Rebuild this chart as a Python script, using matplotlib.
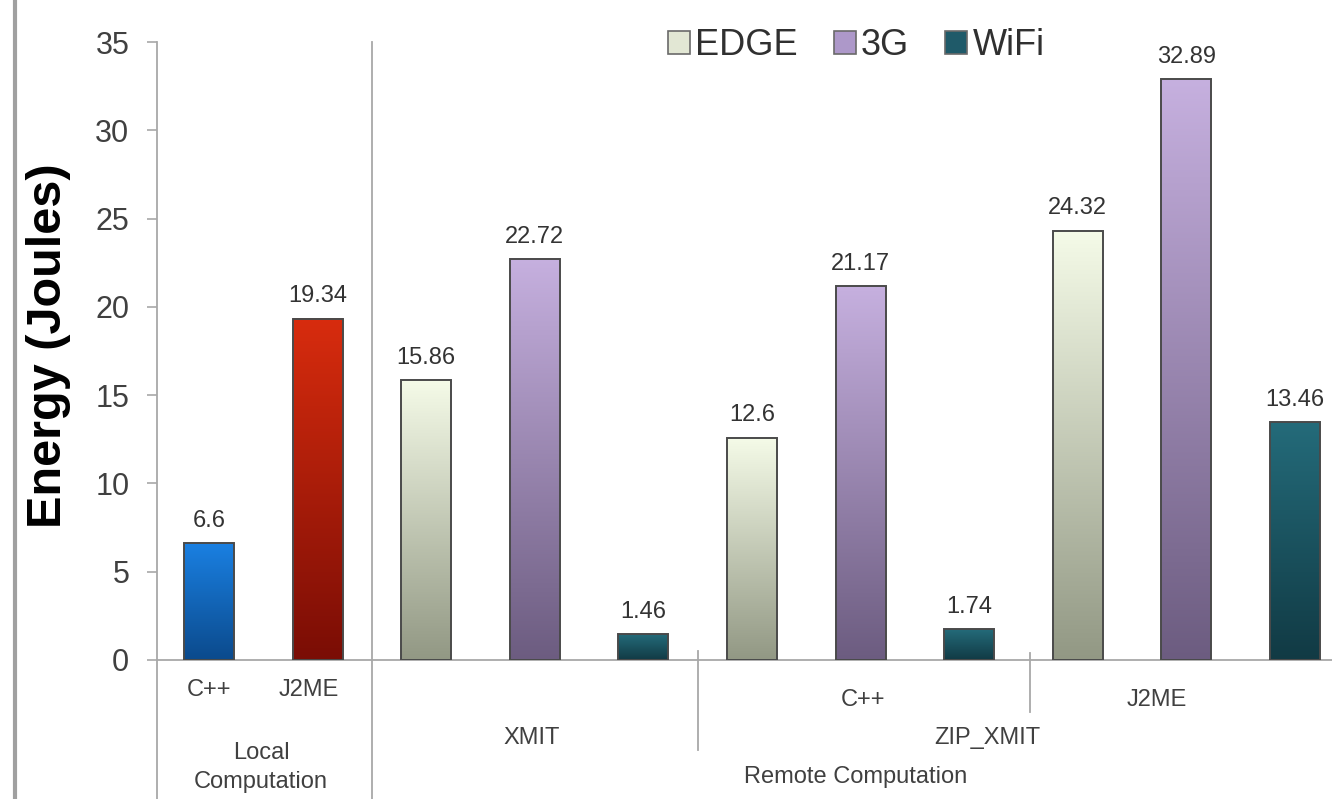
import numpy as np
import matplotlib
matplotlib.use("Agg")
import matplotlib.pyplot as plt
from matplotlib.colors import LinearSegmentedColormap
from matplotlib.patches import Patch
from matplotlib.lines import Line2D

plt.rcParams["font.family"] = ["Liberation Sans", "DejaVu Sans"]

# one entry per bar, left to right
bar_kind = ["C++", "J2ME",
            "EDGE", "3G", "WiFi",     # XMIT
            "EDGE", "3G", "WiFi",     # ZIP_XMIT, C++
            "EDGE", "3G", "WiFi"]     # ZIP_XMIT, J2ME
energy = [6.6, 19.34,
          15.86, 22.72, 1.46,
          12.6, 21.17, 1.74,
          24.32, 32.89, 13.46]
networks = ["EDGE", "3G", "WiFi"]

# (top, bottom) colours of each bar's vertical gradient
shades = {
    "C++":  ("#1a80e2", "#0b4a8c"),
    "J2ME": ("#d82c0e", "#7a0d05"),
    "EDGE": ("#f5fbe8", "#929884"),
    "3G":   ("#c6b0df", "#6c5c80"),
    "WiFi": ("#246b7a", "#113a44"),
}
legend_fill = {"EDGE": "#e2e7d4", "3G": "#ad98c9", "WiFi": "#1f5a69"}

fig = plt.figure(figsize=(13.32, 7.99), dpi=100)
ax = fig.add_axes([0.1179, 0.174, 0.8821, 0.7734])

x = np.arange(len(energy))
width = 0.46
bars = ax.bar(x, energy, width, facecolor="none", edgecolor="#4a4a4a", lw=1.4, zorder=3)
for rect, kind in zip(bars, bar_kind):
    top, bottom = shades[kind]
    cmap = LinearSegmentedColormap.from_list(kind, [bottom, top])
    grad = np.linspace(0, 1, 256).reshape(-1, 1)
    x0, h = rect.get_x(), rect.get_height()
    ax.imshow(grad, cmap=cmap, origin="lower", aspect="auto", zorder=2,
              extent=[x0, x0 + rect.get_width(), 0, h])
    ax.annotate(f"{h:g}", (rect.get_x() + rect.get_width() / 2, h),
                xytext=(0, 8), textcoords="offset points", ha="center", va="bottom",
                fontsize=17, color="#333333")

ax.set_xlim(-0.479, 10.34)
ax.set_ylim(0, 35)
for s in ["top", "right", "bottom", "left"]:
    ax.spines[s].set_visible(False)
ax.set_xticks([])
ax.set_yticks(np.arange(0, 36, 5))
ax.tick_params(axis="y", length=7, width=1.2, color="#a8a8a8", pad=13,
               labelsize=22, labelcolor="#404040")
ax.set_ylabel("Energy (Joules)", fontsize=35, fontweight="bold")
ax.yaxis.set_label_coords(-0.073, 0.508)

# axis lines and the category separators below the plot
line_kw = dict(color="#a8a8a8", lw=1.3, clip_on=False, zorder=1)
ax.plot([-0.479, -0.479], [35, -7.9], **line_kw)
ax.plot([-0.479, 10.34], [0, 0], **line_kw)
ax.plot([1.5, 1.5], [35, -7.9], **line_kw)
ax.plot([4.5, 4.5], [0.5, -5.1], **line_kw)
ax.plot([7.56, 7.56], [0.4, -2.95], **line_kw)

lab_kw = dict(ha="center", va="center", fontsize=17, color="#404040", clip_on=False)
ax.text(0, -1.7, "C++", **lab_kw)
ax.text(0.92, -1.7, "J2ME", **lab_kw)
ax.text(0.48, -6.1, "Local\nComputation", linespacing=1.4, **lab_kw)
ax.text(2.97, -4.4, "XMIT", **lab_kw)
ax.text(6.02, -2.27, "C++", **lab_kw)
ax.text(8.73, -2.27, "J2ME", **lab_kw)
ax.text(7.17, -4.4, "ZIP_XMIT", **lab_kw)
ax.text(5.95, -6.63, "Remote Computation", **lab_kw)

# page border on the far left
fig.add_artist(Line2D([0.0113, 0.0113], [0, 1], color="#a0a0a0", lw=3))

handles = [Patch(facecolor=legend_fill[n], edgecolor="#6a6a6a", lw=1.2, label=n)
           for n in networks]
fig.legend(handles=handles, loc="center left", bbox_to_anchor=(0.488, 0.943), ncol=3,
           frameon=False, fontsize=26, handlelength=0.6, handleheight=0.6,
           handletextpad=0.15, columnspacing=1.0, borderpad=0, labelcolor="#303030")

fig.savefig("out.png", dpi=100)
